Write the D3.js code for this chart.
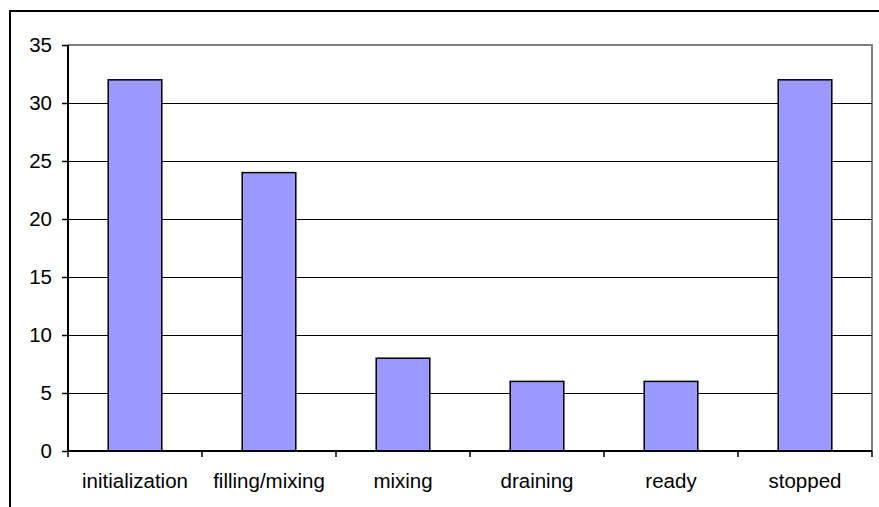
<!DOCTYPE html>
<html><head><meta charset="utf-8">
<script src="https://cdn.jsdelivr.net/npm/d3@7"></script>
<style>html,body{margin:0;padding:0;background:#fff;overflow:hidden}</style>
</head><body>
<svg id="c" width="879" height="507"></svg>
<script>
const categories = ["initialization","filling/mixing","mixing","draining","ready","stopped"];
const values = [32, 24, 8, 6, 6, 32];
const yTicks = [0,5,10,15,20,25,30,35];

const svg = d3.select("#c");
const L = 68, R = 872, T = 45, B = 451;
const font = "'Liberation Sans', Arial, sans-serif";

// outer chart frame
svg.append("rect").attr("x",10).attr("y",11).attr("width",900).attr("height",600)
  .attr("fill","#fff").attr("stroke","#000").attr("stroke-width",2);

const x = d3.scaleBand().domain(categories).range([L,R]).paddingInner(0.6).paddingOuter(0.3);
const xb = d3.scaleBand().domain(categories).range([L,R]);
const y = d3.scaleLinear().domain([0,35]).range([B,T]);

// plot area border (gray top & right)
svg.append("path").attr("d",`M${L},${T}H${R}V${B}`).attr("fill","none")
  .attr("stroke","#808080").attr("stroke-width",2);

// gridlines
svg.append("g").selectAll("line").data(yTicks.filter(d=>d>0 && d<35)).join("line")
  .attr("x1",L).attr("x2",R).attr("y1",d=>Math.round(y(d))+0.5).attr("y2",d=>Math.round(y(d))+0.5)
  .attr("stroke","#000").attr("stroke-width",1.2);

// bars
svg.append("g").selectAll("rect").data(values).join("rect")
  .attr("x",(d,i)=>x(categories[i])).attr("width",x.bandwidth())
  .attr("y",d=>y(d)).attr("height",d=>B-y(d))
  .attr("fill","#9999FF").attr("stroke","#000").attr("stroke-width",1.5);

// y axis
const ya = svg.append("g").attr("transform",`translate(${L},0)`)
  .call(d3.axisLeft(y).tickValues(yTicks).tickSize(6).tickPadding(10).tickFormat(d3.format("d")));
ya.select(".domain").attr("stroke","#000").attr("stroke-width",2).attr("d",`M0,${B}V${T}`);
ya.selectAll(".tick line").attr("stroke","#000").attr("stroke-width",1.5);
ya.selectAll("text").attr("font-family",font).attr("font-size",20.5).attr("fill","#000");

// x axis
const xa = svg.append("g").attr("transform",`translate(0,${B})`);
xa.append("line").attr("x1",L).attr("x2",R).attr("stroke","#000").attr("stroke-width",2);
const bounds = categories.map(c=>xb(c)).concat([R]);
xa.selectAll("line.tk").data(bounds).join("line").attr("class","tk")
  .attr("x1",d=>d).attr("x2",d=>d).attr("y1",0).attr("y2",6)
  .attr("stroke","#000").attr("stroke-width",1.5);
xa.selectAll("text").data(categories).join("text")
  .attr("x",d=>xb(d)+xb.bandwidth()/2).attr("y",37)
  .attr("text-anchor","middle").attr("font-family",font).attr("font-size",20.5).attr("fill","#000")
  .text(d=>d);
</script>
</body></html>
